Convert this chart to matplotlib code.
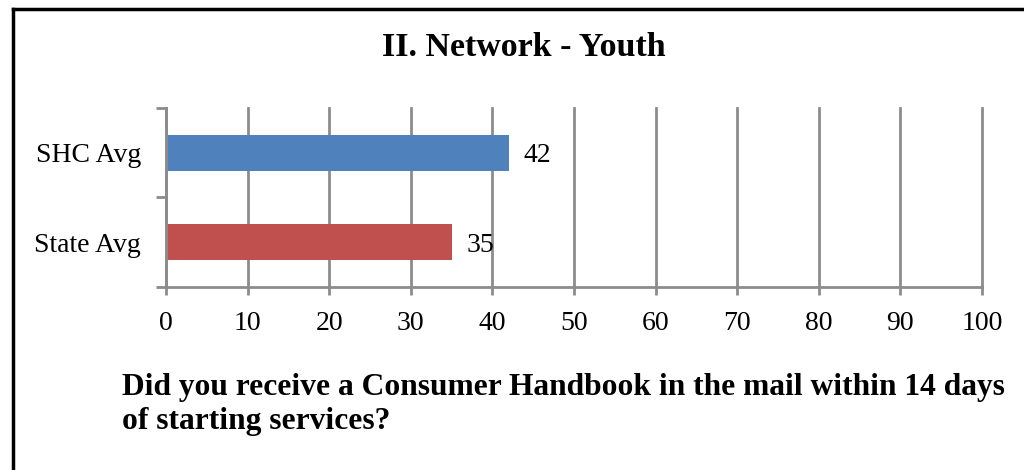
import matplotlib
matplotlib.use("Agg")
import matplotlib.pyplot as plt
from matplotlib.lines import Line2D

categories = ["SHC Avg", "State Avg"]
values = [42, 35]
colors = ["#4F81BD", "#C0504D"]
xticks = [0, 10, 20, 30, 40, 50, 60, 70, 80, 90, 100]
title = "II. Network - Youth"
question = "Did you receive a Consumer Handbook in the mail within 14 days\nof starting services?"

plt.rcParams['font.family'] = ['Liberation Serif', 'DejaVu Serif']
grey = "#8c8c8c"

fig = plt.figure(figsize=(10.24, 4.70), dpi=100)
ax = fig.add_axes([0.1621, 0.3894, 0.959 - 0.1621, 0.7702 - 0.3894])

ypos = list(range(len(categories)))
ax.barh(ypos, values, height=0.4, color=colors, zorder=3)
for y, v in zip(ypos, values):
    ax.annotate(str(v), (v, y), xytext=(11, 0), textcoords="offset points",
                va="center_baseline", ha="left", fontsize=20, zorder=4)

ax.set_xlim(0, 100)
ax.set_ylim(1.5, -0.5)
ax.set_xticks(xticks)
ax.set_xticklabels([str(t) for t in xticks], fontsize=20)
ax.set_yticks(ypos)
ax.set_yticklabels(categories, fontsize=20, va="center_baseline")
ax.set_yticks([-0.5, 0.5, 1.5], minor=True)
ax.tick_params(axis="y", which="major", length=0, pad=18)
ax.tick_params(axis="y", which="minor", length=7, width=2, color=grey)
ax.tick_params(axis="x", which="major", length=6, width=2, color=grey, pad=11)
ax.xaxis.grid(True, color=grey, linewidth=2, zorder=0)
for gl in ax.get_xgridlines():
    gl.set_clip_on(False)
for s in ["top", "right"]:
    ax.spines[s].set_visible(False)
for s in ["left", "bottom"]:
    ax.spines[s].set_color(grey)
    ax.spines[s].set_linewidth(2)
    ax.spines[s].set_zorder(3.5)

fig.text(0.512, 0.90, title, ha="center", va="center", fontsize=24.5, fontweight="bold")
fig.text(0.119, 0.139, question, ha="left", va="center", fontsize=22.7,
         fontweight="bold", linespacing=1.22)

# frame around the chart (left and top edges)
fig.add_artist(Line2D([0.0127, 0.0127], [0, 0.981], transform=fig.transFigure,
                      color="black", linewidth=2.5))
fig.add_artist(Line2D([0.0127, 1.0], [0.981, 0.981], transform=fig.transFigure,
                      color="black", linewidth=2.5))

plt.savefig("out.png", format="png", dpi=100)
